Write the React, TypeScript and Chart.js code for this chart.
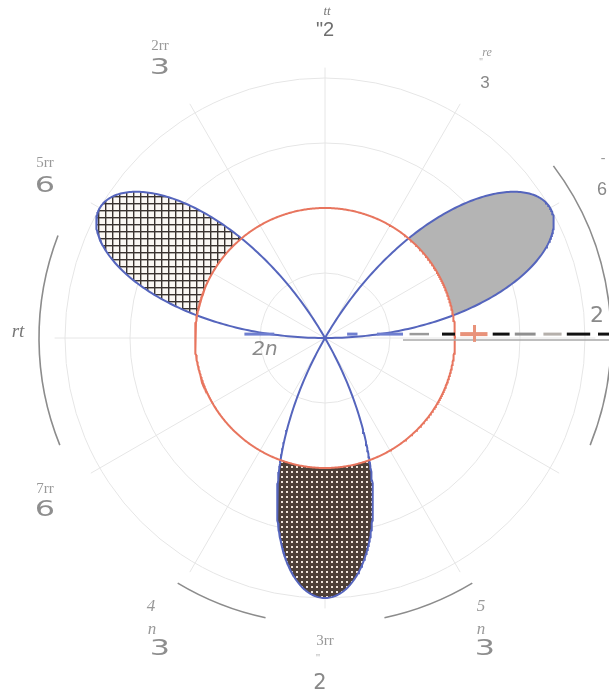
import React, { useEffect, useRef } from "react";
import { Chart, registerables } from "chart.js";

Chart.register(...registerables);

// ---- chart content ----
const ROSE_AMPLITUDE = 2; // r = 2 sin(3θ)
const ROSE_PETALS = 3;
const CIRCLE_RADIUS = 1; // r = 1
const GRID_RADII = [0.5, 1, 1.5, 2];
const SPOKE_ANGLES_DEG = [0, 30, 60, 90, 120, 150, 180, 210, 240, 270, 300, 330];
const OUTER_ARC_RADIUS = 2.2;
const OUTER_ARCS_DEG: [number, number][] = [
  [-22, 37],
  [159, 202],
  [239, 258],
  [282, 301],
];
// shaded petal parts (θ ranges where 2 sin 3θ ≥ 1)
const SHADED_RANGES: [number, number][] = [
  [Math.PI / 18, (5 * Math.PI) / 18],
  [(13 * Math.PI) / 18, (17 * Math.PI) / 18],
  [(25 * Math.PI) / 18, (29 * Math.PI) / 18],
];
const SHADE_STYLES = ["gray", "grid", "dense"];
const SAMPLES = 720;

const rose = (t: number) => ROSE_AMPLITUDE * Math.sin(ROSE_PETALS * t);

function polarPts(rf: (t: number) => number, t0: number, t1: number, n: number) {
  const pts: { x: number; y: number }[] = [];
  for (let i = 0; i <= n; i++) {
    const t = t0 + ((t1 - t0) * i) / n;
    const r = rf(t);
    pts.push({ x: r * Math.cos(t), y: r * Math.sin(t) });
  }
  return pts;
}

function makePattern(ctx: CanvasRenderingContext2D, kind: string) {
  const c = document.createElement("canvas");
  const g = c.getContext("2d")!;
  if (kind === "grid") {
    c.width = 7;
    c.height = 7;
    g.fillStyle = "#fbf8f4";
    g.fillRect(0, 0, 7, 7);
    g.fillStyle = "#3a3330";
    g.fillRect(0, 0, 7, 1.4);
    g.fillRect(0, 0, 1.4, 7);
  } else {
    c.width = 5;
    c.height = 5;
    g.fillStyle = "#4e4038";
    g.fillRect(0, 0, 5, 5);
    g.fillStyle = "#f1e6dc";
    g.fillRect(1, 1, 2, 2);
  }
  return ctx.createPattern(c, "repeat")!;
}

const polarPlugin = {
  id: "polarDecor",
  beforeDatasetsDraw(chart: any) {
    const { ctx } = chart;
    const xs = chart.scales.x;
    const ys = chart.scales.y;
    const cx = xs.getPixelForValue(0);
    const cy = ys.getPixelForValue(0);
    const unit = xs.getPixelForValue(1) - cx;
    ctx.save();
    // grid circles
    ctx.strokeStyle = "#e6e6e6";
    ctx.lineWidth = 1;
    GRID_RADII.forEach((r) => {
      ctx.beginPath();
      ctx.arc(cx, cy, r * unit, 0, Math.PI * 2);
      ctx.stroke();
    });
    // spokes
    SPOKE_ANGLES_DEG.forEach((d) => {
      const a = (d * Math.PI) / 180;
      ctx.beginPath();
      ctx.moveTo(cx, cy);
      ctx.lineTo(xs.getPixelForValue(2.08 * Math.cos(a)), ys.getPixelForValue(2.08 * Math.sin(a)));
      ctx.stroke();
    });
    // outer arcs
    ctx.strokeStyle = "#8c8c8c";
    ctx.lineWidth = 1.6;
    OUTER_ARCS_DEG.forEach(([a0, a1]) => {
      ctx.beginPath();
      ctx.arc(cx, cy, OUTER_ARC_RADIUS * unit, (-a1 * Math.PI) / 180, (-a0 * Math.PI) / 180);
      ctx.stroke();
    });
    // shaded petal regions
    SHADED_RANGES.forEach(([t0, t1], i) => {
      const outer = polarPts(rose, t0, t1, 120);
      const inner = polarPts(() => CIRCLE_RADIUS, t1, t0, 60);
      ctx.beginPath();
      [...outer, ...inner].forEach((p, k) => {
        const px = xs.getPixelForValue(p.x);
        const py = ys.getPixelForValue(p.y);
        if (k === 0) ctx.moveTo(px, py);
        else ctx.lineTo(px, py);
      });
      ctx.closePath();
      const st = SHADE_STYLES[i];
      ctx.fillStyle = st === "gray" ? "#b4b4b4" : makePattern(ctx, st);
      ctx.fill();
    });
    ctx.restore();
  },
  afterDatasetsDraw(chart: any) {
    const { ctx } = chart;
    const xs = chart.scales.x;
    const ys = chart.scales.y;
    const X = (v: number) => xs.getPixelForValue(v);
    const Y = (v: number) => ys.getPixelForValue(v);
    ctx.save();
    // polar axis (solid gray part)
    ctx.strokeStyle = "#a8a8a8";
    ctx.lineWidth = 1.5;
    ctx.beginPath();
    ctx.moveTo(X(0.6), Y(-0.015));
    ctx.lineTo(X(2.3), Y(-0.015));
    ctx.stroke();
    // dashed axis pieces
    const segs: [number, number, string, number][] = [
      [-0.62, -0.39, "#6f7fd0", 3],
      [0.17, 0.25, "#6f7fd0", 3],
      [0.4, 0.6, "#6f7fd0", 3],
      [0.65, 0.8, "#9a9a9a", 2.5],
      [0.9, 1.0, "#111", 3],
      [1.04, 1.25, "#e8927a", 4],
      [1.29, 1.42, "#111", 3],
      [1.46, 1.62, "#8f8f8f", 3],
      [1.68, 1.82, "#b5b0ab", 3],
      [1.86, 2.04, "#111", 3],
      [2.1, 2.25, "#111", 3],
    ];
    segs.forEach(([a, b, col, w]) => {
      ctx.strokeStyle = col;
      ctx.lineWidth = w;
      ctx.beginPath();
      ctx.moveTo(X(a), Y(0.03));
      ctx.lineTo(X(b), Y(0.03));
      ctx.stroke();
    });
    // red tick
    ctx.strokeStyle = "#e8927a";
    ctx.lineWidth = 3;
    ctx.beginPath();
    ctx.moveTo(X(1.15), Y(0.1));
    ctx.lineTo(X(1.15), Y(-0.03));
    ctx.stroke();
    ctx.restore();
  },
  afterDraw(chart: any) {
    const { ctx } = chart;
    ctx.save();
    ctx.textAlign = "center";
    ctx.textBaseline = "middle";
    const t = (s: string, x: number, y: number, font: string, col: string) => {
      ctx.font = font;
      ctx.fillStyle = col;
      ctx.fillText(s, x, y);
    };
    const serif = "'Liberation Serif', serif";
    const sans = "'DejaVu Sans', sans-serif";
    const big = (s: string, x: number, y: number) => {
      ctx.save();
      ctx.translate(x, y);
      ctx.scale(1.45, 1);
      t(s, 0, 0, `22px ${sans}`, "#8e8e8e");
      ctx.restore();
    };
    // π/2
    t("tt", 327, 12, `italic 13px ${serif}`, "#777");
    t('"2', 325, 30, `20px 'Liberation Sans', sans-serif`, "#6f6f6f");
    // 2π/3
    t("2rr", 160, 46, `15px ${serif}`, "#999");
    big("3", 160, 68);
    // π/3
    t("re", 487, 53, `italic 12px ${serif}`, "#999");
    t('"', 481, 62, `10px ${serif}`, "#aaa");
    t("3", 485, 83, `17px 'Liberation Sans', sans-serif`, "#888");
    // 5π/6
    t("5rr", 45, 163, `15px ${serif}`, "#999");
    big("6", 45, 186);
    // π/6
    t("-", 603, 158, `14px ${serif}`, "#999");
    t("6", 602, 190, `18px 'Liberation Sans', sans-serif`, "#888");
    // π
    t("rt", 18, 332, `italic 19px ${serif}`, "#777");
    // 7π/6
    t("7rr", 45, 489, `15px ${serif}`, "#999");
    big("6", 45, 510);
    // 4π/3
    t("4", 151, 607, `italic 17px ${serif}`, "#999");
    t("n", 152, 630, `italic 17px ${serif}`, "#999");
    big("3", 160, 649);
    // 3π/2
    t("3rr", 325, 641, `15px ${serif}`, "#999");
    t('"', 318, 658, `11px ${serif}`, "#aaa");
    t("2", 320, 684, `21px ${sans}`, "#888");
    // 5π/3
    t("5", 481, 607, `italic 17px ${serif}`, "#999");
    t("n", 481, 630, `italic 17px ${serif}`, "#999");
    big("3", 485, 649);
    // axis labels
    t("2n", 265, 350, `italic 20px ${sans}`, "#8a8a8a");
    t("2", 597, 316, `22px ${sans}`, "#8a8a8a");
    ctx.restore();
  },
};

export default function App() {
  const ref = useRef<HTMLCanvasElement>(null);
  useEffect(() => {
    const canvas = ref.current!;
    const chart = new Chart(canvas, {
      type: "scatter",
      data: {
        datasets: [
          {
            label: "r = 1",
            data: polarPts(() => CIRCLE_RADIUS, 0, Math.PI * 2, SAMPLES),
            showLine: true,
            borderColor: "#e8755e",
            borderWidth: 2,
            pointRadius: 0,
            fill: false,
          },
          {
            label: "r = 2 sin 3θ",
            data: polarPts(rose, 0, Math.PI, SAMPLES),
            showLine: true,
            borderColor: "#5565bd",
            borderWidth: 2,
            pointRadius: 0,
            fill: false,
          },
        ],
      },
      options: {
        animation: false,
        responsive: false,
        devicePixelRatio: 1,
        layout: { padding: 0 },
        plugins: { legend: { display: false }, tooltip: { enabled: false } },
        scales: {
          x: { type: "linear", display: false, min: -325 / 130, max: (609 - 325) / 130 },
          y: { type: "linear", display: false, min: -(695 - 338) / 130, max: 338 / 130 },
        },
      },
      plugins: [polarPlugin],
    });
    return () => chart.destroy();
  }, []);
  return (
    <div style={{ position: "absolute", left: 0, top: 0, width: 609, height: 695, background: "#fff" }}>
      <canvas ref={ref} width={609} height={695} />
    </div>
  );
}
